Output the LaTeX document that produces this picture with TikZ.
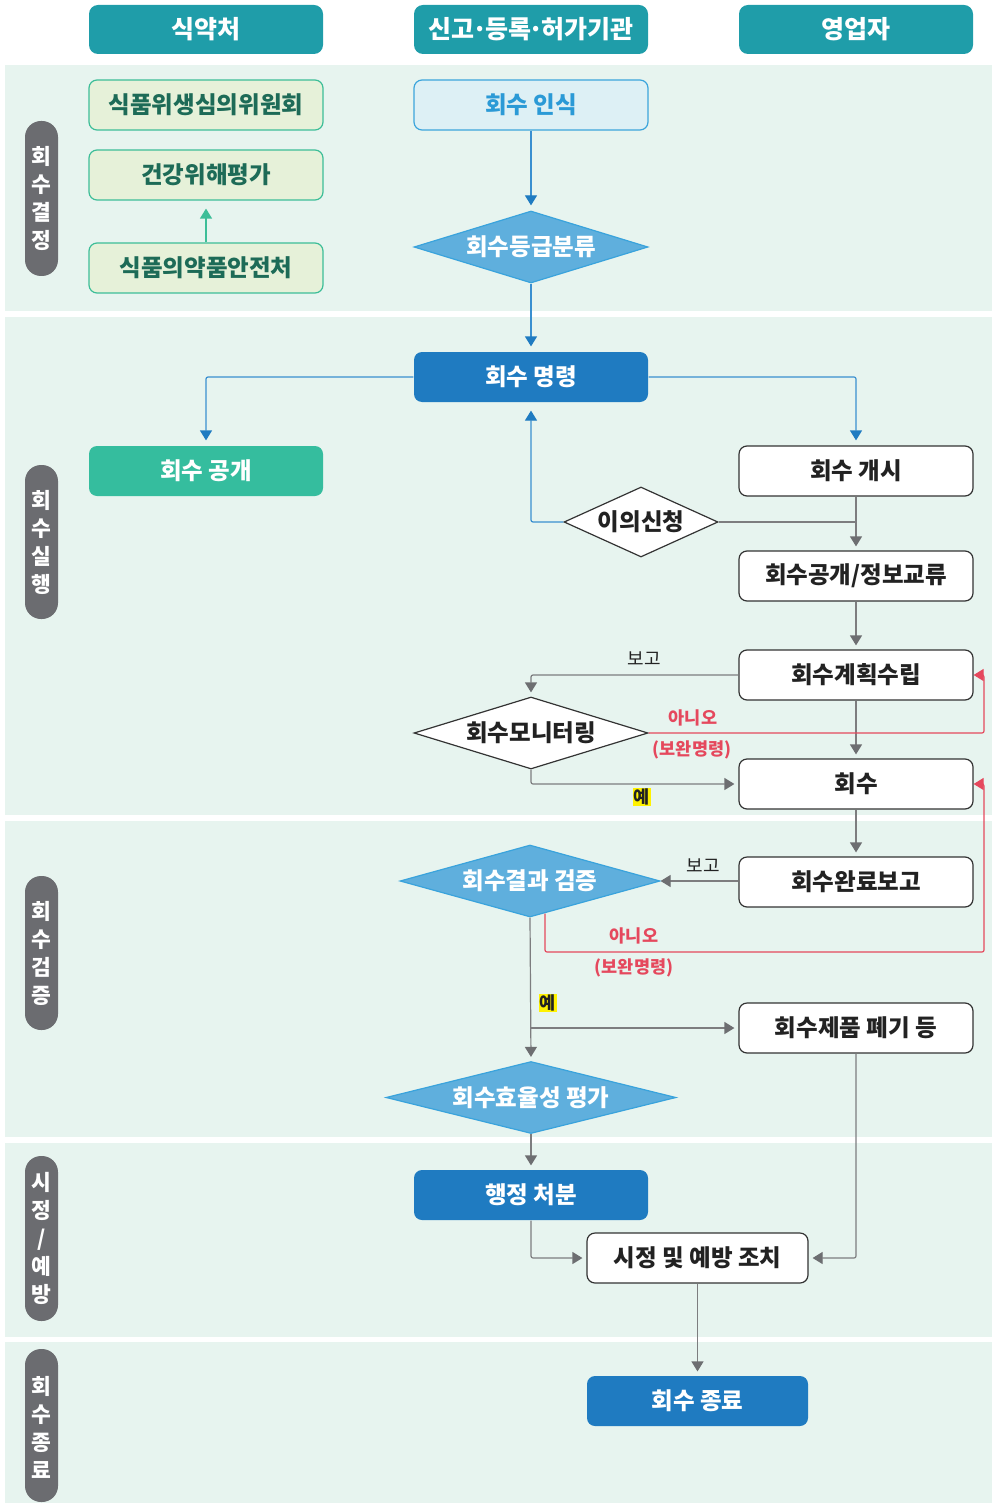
\documentclass[tikz,border=0pt]{standalone}
\usepackage{fontspec}
\setmainfont{Noto Sans CJK KR}[BoldFont={Noto Sans CJK KR Black}]
\usetikzlibrary{arrows.meta,shapes.geometric,calc}
\definecolor{bandbg}{HTML}{E7F4EF}
\definecolor{hdrteal}{HTML}{1F9DA9}
\definecolor{pillgrey}{HTML}{6B6C70}
\definecolor{gfill}{HTML}{E6F1D9}
\definecolor{gborder}{HTML}{3DBE98}
\definecolor{gtext}{HTML}{1D6B57}
\definecolor{pubfill}{HTML}{35BD9E}
\definecolor{lbfill}{HTML}{DDF0F5}
\definecolor{lbborder}{HTML}{3CA5DC}
\definecolor{lbtext}{HTML}{2B9AD6}
\definecolor{dfill}{HTML}{5FAFDD}
\definecolor{dborder}{HTML}{3AA3DC}
\definecolor{dkblue}{HTML}{1F7BC1}
\definecolor{blueline}{HTML}{3A8FD0}
\definecolor{greyline}{HTML}{7D7D7F}
\definecolor{greytip}{HTML}{6D6E71}
\definecolor{redc}{HTML}{E5485D}
\definecolor{yel}{HTML}{FFF200}
\definecolor{boxline}{HTML}{333333}
\definecolor{txt}{HTML}{222222}
\newcommand\myboxfont{\fontsize{23.5}{26}\selectfont\bfseries}
\newcommand\myhdrfont{\fontsize{25}{28}\selectfont\bfseries}
\newcommand\mysmallfont{\fontsize{18}{20}\selectfont}
\newcommand\mysmallbfont{\fontsize{17.5}{20}\selectfont\bfseries}
\newcommand\mypillfont{\fontsize{21.5}{28}\selectfont\bfseries}
\newcommand\mydot{\kern-2.5pt·\kern-2.5pt}
\begin{document}
\begin{tikzpicture}[x=1pt,y=-1pt,
  hdr/.style={fill=hdrteal, text=white, rounded corners=9pt, minimum width=234pt, minimum height=49pt, inner sep=0pt, font=\myhdrfont},
  basebox/.style={rounded corners=8pt, minimum width=234pt, minimum height=50pt, inner sep=0pt, font=\myboxfont, line width=1.2pt},
  greenbox/.style={basebox, fill=gfill, draw=gborder, text=gtext},
  pubbox/.style={basebox, fill=pubfill, text=white},
  lbbox/.style={basebox, fill=lbfill, draw=lbborder, text=lbtext},
  dkbox/.style={basebox, fill=dkblue, text=white},
  whbox/.style={basebox, fill=white, draw=boxline, text=txt},
  dia/.style={diamond, inner sep=0pt, font=\myboxfont, line width=1.2pt, minimum height=72pt},
  bdia/.style={dia, fill=dfill, draw=dborder, text=white},
  wdia/.style={dia, fill=white, draw=boxline, text=txt},
  pill/.style={fill=pillgrey, rounded corners=16pt},
  pilltext/.style={text=white, font=\mypillfont, align=center, inner sep=0pt},
  bl/.style={draw=blueline, line width=1.2pt, rounded corners=2pt},
  blarr/.style={bl, -{Triangle[length=10pt,width=12pt,color=dkblue]}, shorten >=5pt},
  gl/.style={draw=greyline, line width=1.2pt, rounded corners=2pt},
  glarr/.style={gl, -{Triangle[length=10pt,width=12pt,color=greytip]}, shorten >=4pt},
  rl/.style={draw=redc, line width=1.2pt, rounded corners=2pt},
  rlarr/.style={rl, -{Triangle[length=10pt,width=12pt]}},
  smalllab/.style={font=\mysmallfont, text=txt, inner sep=0pt},
  redlab/.style={font=\mysmallbfont, text=redc, inner sep=0pt},
  yeslab/.style={font=\mysmallbfont, text=txt, fill=yel, inner sep=1pt}
]
\useasboundingbox (0,0) rectangle (992,1503);
% bands
\fill[bandbg] (5,65) rectangle (992,311);
\fill[bandbg] (5,317) rectangle (992,815);
\fill[bandbg] (5,821) rectangle (992,1137);
\fill[bandbg] (5,1143) rectangle (992,1337);
\fill[bandbg] (5,1342) rectangle (992,1503);
% side pills
\fill[pill] (25,121) rectangle (58,276);
\node[pilltext] (p1) at (41.5,198.5) {회\\수\\결\\정};
\fill[pill] (25,465) rectangle (58,619);
\node[pilltext] (p2) at (41.5,542) {회\\수\\실\\행};
\fill[pill] (25,876) rectangle (58,1030);
\node[pilltext] (p3) at (41.5,953) {회\\수\\검\\증};
\fill[pill] (25,1156) rectangle (58,1321);
\node[pilltext] (p4) at (41.5,1238.5) {시\\정\\/\\예\\방};
\fill[pill] (25,1349) rectangle (58,1502);
\node[pilltext] (p5) at (41.5,1427) {회\\수\\종\\료};
% headers
\node[hdr] (h1) at (206,29.5) {식약처};
\node[hdr] (h2) at (531,29.5) {신고\mydot 등록\mydot 허가기관};
\node[hdr] (h3) at (856,29.5) {영업자};
% column 1
\node[greenbox] (c1) at (206,105) {식품위생심의위원회};
\node[greenbox] (c2) at (206,175) {건강위해평가};
\node[greenbox] (c3) at (206,268) {식품의약품안전처};
\node[pubbox] (gongae) at (206,471) {회수 공개};
% column 2
\node[lbbox] (recog) at (531,105) {회수 인식};
\node[bdia, minimum width=234pt, aspect=3.25] (grade) at (531,247) {회수등급분류};
\node[dkbox] (order) at (531,377) {회수 명령};
\node[wdia, minimum width=154pt, minimum height=70pt, aspect=2.2] (objection) at (641,522) {이의신청};
\node[wdia, minimum width=234pt, aspect=3.25] (mon) at (531,733) {회수모니터링};
\node[bdia, minimum width=260pt, aspect=3.6] (verify) at (530,881) {회수결과 검증};
\node[bdia, minimum width=290pt, aspect=4] (eff) at (531,1097.5) {회수효율성 평가};
\node[dkbox] (admin) at (531,1195) {행정 처분};
\node[whbox, minimum width=221pt] (fix) at (697.5,1258) {시정 및 예방 조치};
\node[dkbox, minimum width=221pt] (finish) at (697.5,1401) {회수 종료};
% column 3
\node[whbox] (gaesi) at (856,471) {회수 개시};
\node[whbox] (info) at (856,576) {회수공개/정보교류};
\node[whbox] (plan) at (856,675) {회수계획수립};
\node[whbox] (hoesu) at (856,784) {회수};
\node[whbox] (report) at (856,882) {회수완료보고};
\node[whbox] (dispose) at (856,1028) {회수제품 폐기 등};
% green connector
\draw[draw=gborder, line width=1.2pt, -{Triangle[length=10pt,width=12pt]}, shorten >=8pt] (c3.north) -- (c2.south);
% blue connectors
\draw[blarr] (recog.south) -- (grade.north);
\draw[blarr] (grade.south) -- (order.north);
\draw[blarr] (order.west) -| (gongae.north);
\draw[blarr] (order.east) -| (gaesi.north);
\draw[blarr, shorten >=8pt] (objection.west) -| (order.south);
% grey connectors
\draw[glarr] (gaesi.south) -- (info.north);
\draw[gl] (objection.east) -- (objection.east -| gaesi.south);
\draw[glarr] (info.south) -- (plan.north);
\draw[glarr] (plan.west) -| (mon.north);
\draw[glarr] (plan.south) -- (hoesu.north);
\draw[glarr] (mon.south) |- (hoesu.west);
\draw[glarr] (hoesu.south) -- (report.north);
\draw[glarr, shorten >=0pt] (report.west |- verify.east) -- (verify.east);
\draw[glarr] (verify.south) -- (eff.north);
\coordinate (br) at (verify.south |- dispose.west);
\draw[glarr] (br) -- (dispose.west);
\draw[glarr] (eff.south) -- (admin.north);
\draw[glarr] (admin.south) |- (fix.west);
\draw[glarr] (dispose.south) |- (fix.east);
\draw[glarr] (fix.south) -- (finish.north);
% red connectors
\coordinate (rx) at (984,952);
\draw[rlarr] (mon.east) -- (mon.east -| rx) -- (rx |- plan.east) -- (plan.east);
\coordinate (vs) at ($(verify.south)+(15,-4)$);
\draw[rlarr] (vs) -- (vs |- rx) -- (rx) -- (rx |- hoesu.east) -- (hoesu.east);
% labels
\node[smalllab] (l1) at (644,659) {보고};
\node[smalllab] (l2) at (703,866) {보고};
\node[redlab] (l3) at (693,718) {아니오};
\node[redlab] (l4) at (692,750) {(보완명령)};
\node[redlab] (l5) at (634,936) {아니오};
\node[redlab] (l6) at (634,968) {(보완명령)};
\node[yeslab] (l7) at (642,797) {예};
\node[yeslab] (l8) at (548,1003) {예};
\end{tikzpicture}
\end{document}
